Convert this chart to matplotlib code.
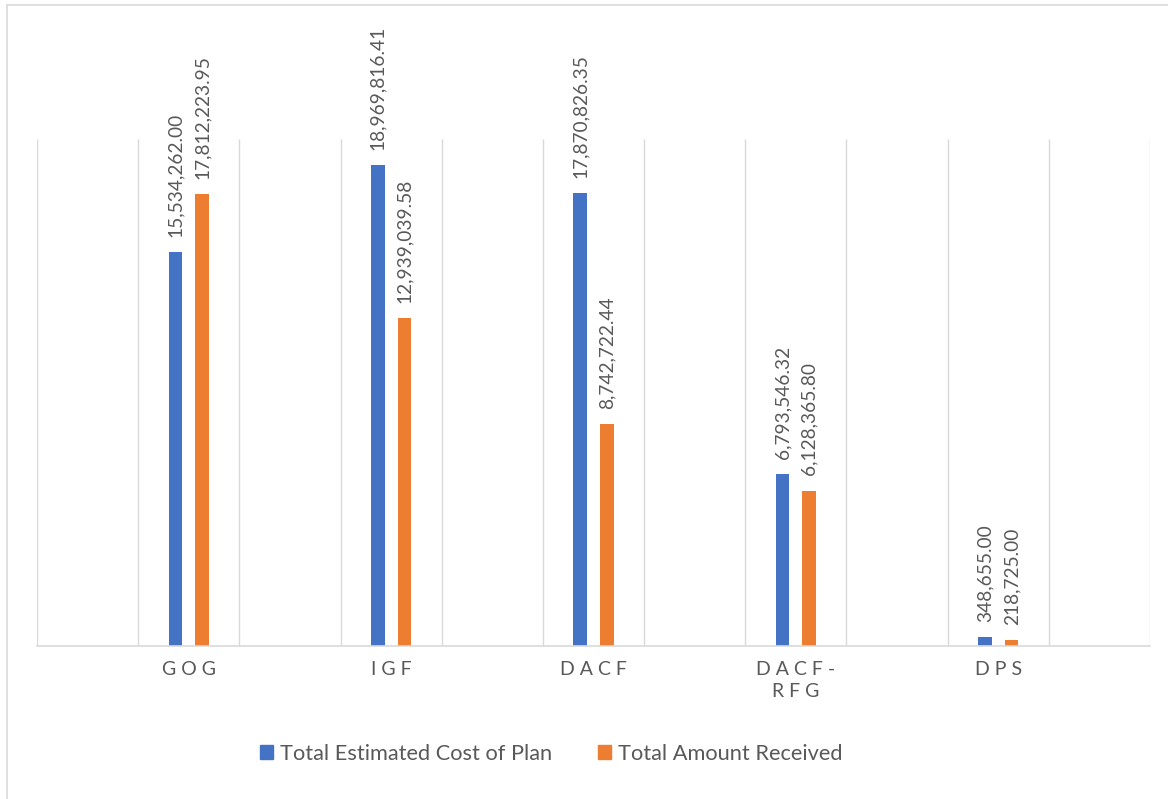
import numpy as np
import matplotlib
matplotlib.use("Agg")
from matplotlib import pyplot as plt
from matplotlib.patches import Rectangle, Patch

# data
categories = ["GOG", "IGF", "DACF", "DACF-\nRFG", "DPS"]
estimated = [15534262.00, 18969816.41, 17870826.35, 6793546.32, 348655.00]
received = [17812223.95, 12939039.58, 8742722.44, 6128365.80, 218725.00]
series_names = ["Total Estimated Cost of Plan", "Total Amount Received"]

blue = "#4472C4"
orange = "#ED7D31"
grey_txt = "#595959"
grey_line = "#D9D9D9"

plt.rcParams['font.family'] = ['Lato', 'DejaVu Sans']

W, H = 1168, 799
fig = plt.figure(figsize=(W / 100, H / 100), dpi=100)

# chart area border (cropped at right/bottom in the original)
fig.patches.append(Rectangle((7 / W, -0.1), 1.1, (H - 5) / H + 0.1,
                             transform=fig.transFigure, fill=False,
                             edgecolor=grey_line, lw=1.2))

ax = fig.add_axes([37 / W, (H - 646) / H, (1150 - 37) / W, (646 - 139) / H])

x = np.arange(len(categories))
bw = 0.067
off = 0.066

b1 = ax.bar(x - off, estimated, bw, color=blue, zorder=3)
b2 = ax.bar(x + off, received, bw, color=orange, zorder=3)

for bars, vals in ((b1, estimated), (b2, received)):
    for rect, v in zip(bars, vals):
        ax.annotate(f"{v:,.2f}", (rect.get_x() + rect.get_width() / 2, v),
                    xytext=(0, 11), textcoords="offset points",
                    rotation=90, ha="center", va="bottom",
                    fontsize=13.8, color=grey_txt)

# vertical gridlines between half categories
grid_x = np.arange(-0.75, 4.8, 0.5)
ax.vlines(grid_x, 0, 20000000, color=grey_line, lw=1.0, zorder=1)

ax.set_xlim(-0.75, 4.75)
ax.set_ylim(0, 20000000)
ax.set_yticks([])
for s in ("top", "left", "right"):
    ax.spines[s].set_visible(False)
ax.spines["bottom"].set_color(grey_line)
ax.spines["bottom"].set_linewidth(1.2)
ax.spines["bottom"].set_zorder(4)

spaced = ["\n".join(" ".join(part) for part in c.split("\n")) for c in categories]
ax.set_xticks(x)
ax.set_xticklabels(spaced, fontsize=14, color=grey_txt, linespacing=1.35)
ax.tick_params(axis="x", length=0, pad=11)

handles = [Patch(color=blue), Patch(color=orange)]
fig.legend(handles, series_names, loc="center", ncol=2,
           bbox_to_anchor=(551 / W, (H - 754) / H), frameon=False,
           fontsize=15.7, handlelength=0.62, handleheight=0.62,
           handletextpad=0.3, columnspacing=2.1, labelcolor=grey_txt)

fig.savefig("out.png", dpi=100)
